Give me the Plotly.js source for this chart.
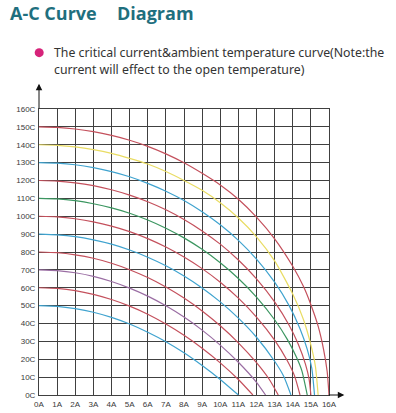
<!DOCTYPE html>
<html>
<head>
<meta charset="utf-8">
<script src="https://cdn.plot.ly/plotly-3.0.1.min.js"></script>
<style>
html,body{margin:0;padding:0;background:#fff;}
#chart{width:396px;height:413px;}
</style>
</head>
<body>
<div id="chart"></div>
<script>
// Tick labels
const currentTicks = [0,1,2,3,4,5,6,7,8,9,10,11,12,13,14,15,16];
const currentLabels = ['0A','1A','2A','3A','4A','5A','6A','7A','8A','9A','10A','11A','12A','13A','14A','15A','16A'];
const tempTicks = [0,10,20,30,40,50,60,70,80,90,100,110,120,130,140,150,160];
const tempLabels = ['0C','10C','20C','30C','40C','50C','60C','70C','80C','90C','100C','110C','120C','130C','140C','150C','160C'];

// Curves (current A -> temperature C)
const i150 = [0,1,2,3,4,5,6,7,8,9,10,11,12,13,14,14.6,15,15.4,15.7,15.9,16];
const t150 = [150,149.7,148.8,147.3,145.2,142.5,139.1,134.9,129.9,124.0,117.5,109.5,99.5,87.4,72.0,60.5,50.5,38.5,25.5,13,0];
const i140 = [0,1,2,3,4,5,6,7,8,9,10,11,12,13,14,14.6,15,15.25,15.4];
const t140 = [140,139.7,138.8,137.3,135.2,132.4,129.2,125.0,120.0,114.5,107.5,99.0,88.5,75.0,56.5,42,28,16,0];
const i130 = [0,1,2,3,4,5,6,7,8,9,10,11,12,13,13.8,14.4,14.8,15.05,15.2];
const t130 = [130,129.7,128.8,127.2,125.0,122.1,118.4,114.0,108.8,102.5,95.2,86.5,76.0,63.1,50.0,37.1,25.5,15.0,0];
const i120 = [0,1,2,3,4,5,6,7,8,9,10,11,12,13,13.8,14.3,14.7,14.9,15];
const t120 = [120,119.7,118.7,117.1,114.8,111.8,108.1,103.6,98.2,91.8,84.4,75.5,65.0,52.1,39.0,28.5,17.3,9.0,0];
const i110 = [0,1,2,3,4,5,6,7,8,9,10,11,12,13,13.7,14.2,14.5,14.8];
const t110 = [110,109.7,108.7,107.0,104.7,101.7,97.9,93.3,87.9,81.5,74.0,65.2,54.8,42.1,31.1,21.2,13.6,0];
const i100 = [0,1,2,3,4,5,6,7,8,9,10,11,12,13,13.7,14.1,14.4];
const t100 = [100,99.7,98.6,96.9,94.5,91.4,87.5,82.8,77.2,70.7,63.1,54.2,43.6,30.7,19.2,10.7,0];
const i90 = [0,1,2,3,4,5,6,7,8,9,10,11,12,13,13.5,13.9];
const t90 = [90,89.6,88.6,86.8,84.4,81.1,77.1,72.3,66.6,59.9,52.1,43.0,32.3,18.9,10.5,0];
const i80 = [0,1,2,3,4,5,6,7,8,9,10,11,12,12.7,13.2];
const t80 = [80,79.6,78.4,76.5,73.7,70.1,65.7,60.4,54.2,47.0,38.7,29.2,18.1,8.8,0];
const i70 = [0,1,2,3,4,5,6,7,8,9,10,11,12,12.5];
const t70 = [70,69.6,68.4,66.4,63.5,59.8,55.3,49.9,43.6,36.3,27.9,18.3,7.1,0];
const i60 = [0,1,2,3,4,5,6,7,8,9,10,11,11.8];
const t60 = [60,59.6,58.4,56.3,53.4,49.7,45.2,39.7,33.4,26.2,18.0,8.7,0];
const i50 = [0,1,2,3,4,5,6,7,8,9,10,11];
const t50 = [50,49.6,48.3,46.3,43.4,39.7,35.1,29.8,23.6,16.5,8.7,0];

const RED = '#c4505c', YEL = '#e9dc63', BLU = '#3fa3cf', GRN = '#3b9660', PUR = '#9a6da3';
const curves = [
  [i150,t150,RED],[i140,t140,YEL],[i130,t130,BLU],[i120,t120,RED],
  [i110,t110,GRN],[i100,t100,RED],[i90,t90,BLU],[i80,t80,RED],
  [i70,t70,PUR],[i60,t60,RED],[i50,t50,BLU]
];

const traces = curves.map(c => ({
  type:'scatter', mode:'lines', x:c[0], y:c[1],
  line:{color:c[2], width:1.2, shape:'spline', smoothing:0.6},
  hoverinfo:'skip', showlegend:false
}));

// plot area in pixels
const L = 39.3, R = 328.7, T = 109.3, B = 395;
const W = R - L, H = B - T;
const px = x => (x - L) / W;
const py = y => (B - y) / H;

const layout = {
  width:396, height:413,
  margin:{l:L, r:396-R, t:T, b:413-B, pad:0},
  paper_bgcolor:'#fff', plot_bgcolor:'#fff',
  font:{family:'Liberation Sans, Arial, sans-serif', size:8, color:'#444'},
  xaxis:{range:[0,16], tickvals:currentTicks, ticktext:currentLabels,
    showgrid:true, gridcolor:'#404040', gridwidth:1, zeroline:false,
    showline:true, linecolor:'#404040', linewidth:1, mirror:true,
    ticks:'outside', ticklen:1, tickcolor:'rgba(0,0,0,0)', fixedrange:true,
    tickfont:{size:8, color:'#3a3a3a'}},
  yaxis:{range:[0,160], tickvals:tempTicks, ticktext:tempLabels,
    showgrid:true, gridcolor:'#404040', gridwidth:1, zeroline:false,
    showline:true, linecolor:'#404040', linewidth:1, mirror:true,
    ticks:'outside', ticklen:1, tickcolor:'rgba(0,0,0,0)', fixedrange:true,
    tickfont:{size:8, color:'#3a3a3a'}},
  shapes:[
    {type:'circle', xref:'paper', yref:'paper', xsizemode:'pixel', ysizemode:'pixel',
     xanchor:px(39.5), yanchor:py(53), x0:-4.5, x1:4.5, y0:-4.5, y1:4.5,
     fillcolor:'#d6237a', line:{width:0}}
  ],
  annotations:[
    {xref:'paper', yref:'paper', x:px(9), y:py(13), xanchor:'left', yanchor:'middle',
     text:'<b>A-C Curve</b>', showarrow:false, borderpad:0,
     font:{family:'Open Sans, sans-serif', size:18, color:'#1f6f7e'}},
    {xref:'paper', yref:'paper', x:px(116), y:py(13), xanchor:'left', yanchor:'middle',
     text:'<b>Diagram</b>', showarrow:false, borderpad:0,
     font:{family:'Open Sans, sans-serif', size:18, color:'#1f6f7e'}},
    {xref:'paper', yref:'paper', x:px(52), y:py(53), xanchor:'left', yanchor:'middle',
     text:'The critical current&ambient temperature curve(Note:the', showarrow:false,
     font:{family:'Noto Sans, sans-serif', size:12.3, color:'#333'}},
    {xref:'paper', yref:'paper', x:px(52), y:py(70), xanchor:'left', yanchor:'middle',
     text:'current will effect to the open temperature)', showarrow:false,
     font:{family:'Noto Sans, sans-serif', size:12.3, color:'#333'}},
    {xref:'paper', yref:'paper', x:0, y:py(84), axref:'pixel', ayref:'pixel', ax:0, ay:26,
     text:'', showarrow:true, arrowhead:2, arrowsize:1.3, arrowwidth:1, arrowcolor:'#111'},
    {xref:'paper', yref:'paper', x:px(344), y:0, axref:'pixel', ayref:'pixel', ax:-17, ay:0,
     text:'', showarrow:true, arrowhead:2, arrowsize:1.3, arrowwidth:1, arrowcolor:'#111'}
  ]
};

Plotly.newPlot('chart', traces, layout, {displayModeBar:false, staticPlot:true});
</script>
</body>
</html>
